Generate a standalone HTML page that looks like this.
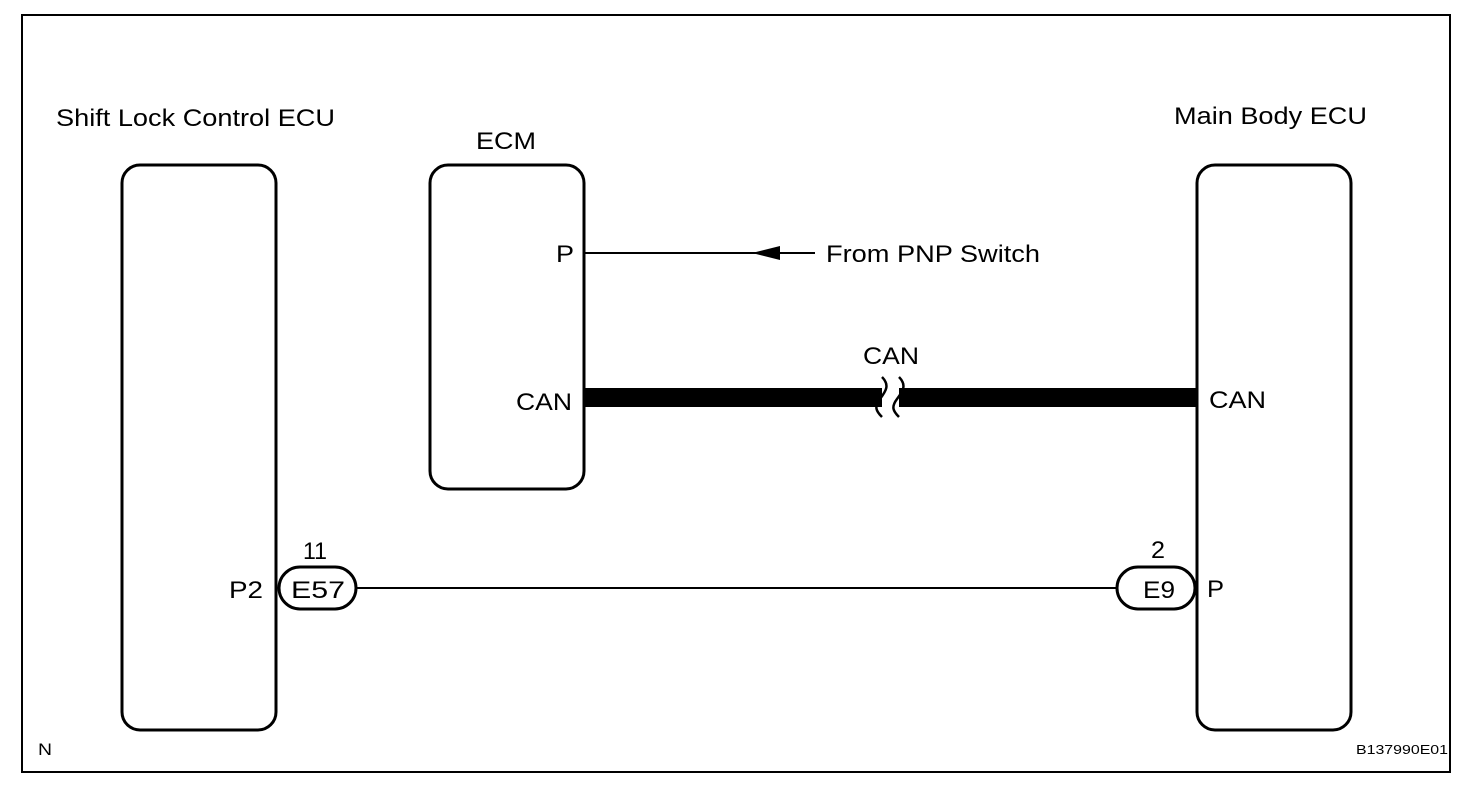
<!DOCTYPE html>
<html><head><style>html,body{margin:0;padding:0;background:#fff}svg{display:block}text{font-family:"Liberation Sans",Arial,sans-serif;fill:#000}</style></head>
<body>
<svg width="1472" height="792" viewBox="0 0 1472 792" xmlns="http://www.w3.org/2000/svg">
<rect x="22" y="15" width="1428" height="757" fill="none" stroke="#000" stroke-width="2"/>
<g fill="none" stroke="#000" stroke-width="3">
<rect x="122" y="165" width="154" height="565" rx="18"/>
<rect x="430" y="165" width="154" height="324" rx="18"/>
<rect x="1197" y="165" width="154" height="565" rx="18"/>
</g>
<line x1="584" y1="253" x2="815" y2="253" stroke="#000" stroke-width="2"/>
<polygon points="752,253 780,246 780,260" fill="#000"/>
<rect x="584" y="388" width="298" height="19" fill="#000"/>
<rect x="899" y="388" width="298" height="19" fill="#000"/>
<path d="M882,377 c8,8 4,14 -2,22 c-6,8 -4,12 2,18 M899,377 c8,8 4,14 -2,22 c-6,8 -4,12 2,18" fill="none" stroke="#000" stroke-width="2.5"/>
<line x1="356" y1="588" x2="1116" y2="588" stroke="#000" stroke-width="2"/>
<rect x="279" y="567" width="77" height="42" rx="21" fill="#fff" stroke="#000" stroke-width="3"/>
<rect x="1117" y="567" width="78" height="42" rx="21" fill="#fff" stroke="#000" stroke-width="3"/>
<g font-size="24" lengthAdjust="spacingAndGlyphs">
<text x="56" y="126" textLength="279" lengthAdjust="spacingAndGlyphs">Shift Lock Control ECU</text>
<text x="476" y="149" textLength="60" lengthAdjust="spacingAndGlyphs">ECM</text>
<text x="1174" y="124" textLength="193" lengthAdjust="spacingAndGlyphs">Main Body ECU</text>
<text x="556" y="262" textLength="18" lengthAdjust="spacingAndGlyphs">P</text>
<text x="516" y="410" textLength="56" lengthAdjust="spacingAndGlyphs">CAN</text>
<text x="1209" y="408" textLength="57" lengthAdjust="spacingAndGlyphs">CAN</text>
<text x="826" y="262" textLength="214" lengthAdjust="spacingAndGlyphs">From PNP Switch</text>
<text x="863" y="364" textLength="56" lengthAdjust="spacingAndGlyphs">CAN</text>
<text x="229" y="598" textLength="34" lengthAdjust="spacingAndGlyphs">P2</text>
<text x="1207" y="597" textLength="17" lengthAdjust="spacingAndGlyphs">P</text>
<text x="303" y="559" textLength="24" lengthAdjust="spacingAndGlyphs">11</text>
<text x="1151" y="558" textLength="14" lengthAdjust="spacingAndGlyphs">2</text>
<text x="291" y="598" textLength="54" lengthAdjust="spacingAndGlyphs">E57</text>
<text x="1143" y="598" textLength="32" lengthAdjust="spacingAndGlyphs">E9</text>
</g>
<text x="38" y="755" font-size="17" textLength="14" lengthAdjust="spacingAndGlyphs">N</text>
<text x="1356" y="754" font-size="13" textLength="92" lengthAdjust="spacingAndGlyphs">B137990E01</text>
</svg>
</body></html>
